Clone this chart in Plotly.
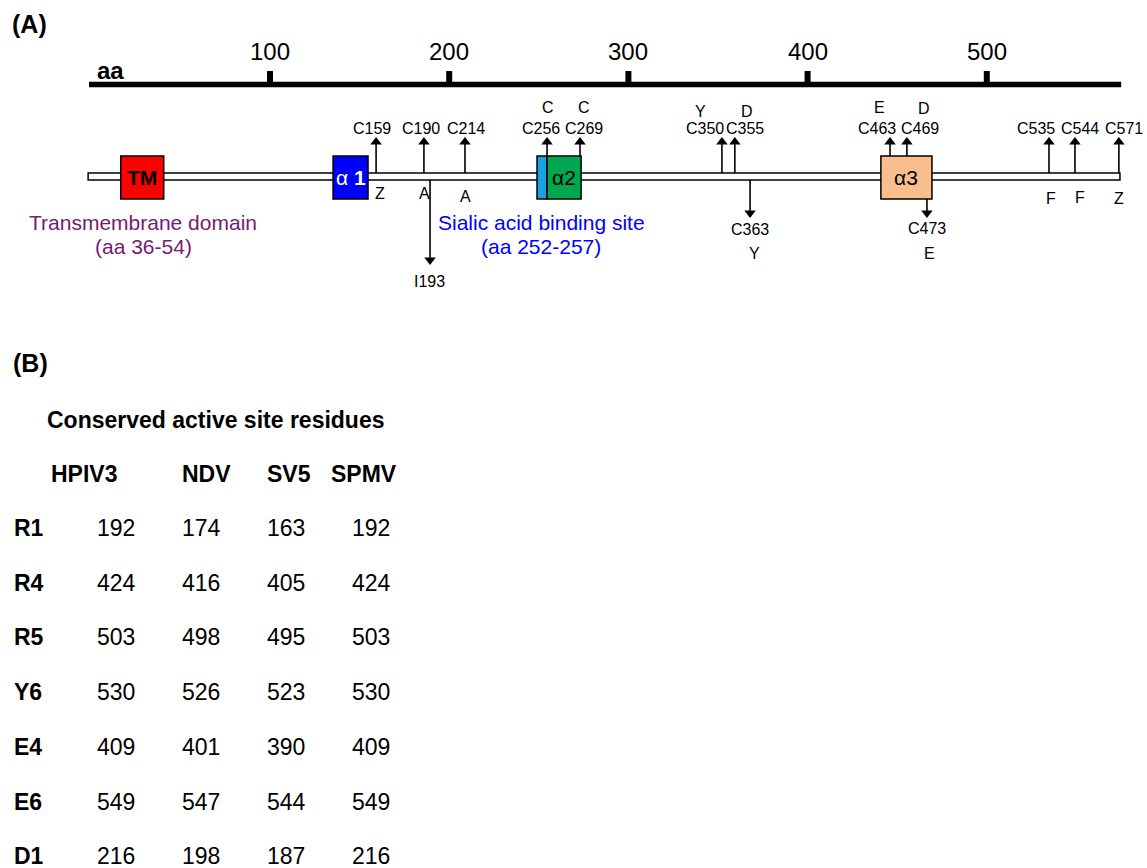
import plotly.graph_objects as go

# ------------------------------------------------------------------ data
ruler_ticks = [100, 200, 300, 400, 500]
ruler_span = [-1.0, 575.0]          # aa extent of the scale bar
chain_span = [-1.5, 574.3]          # aa extent of the HN chain as drawn

domain_names = ["TM", "α1", "SA", "α2", "α3"]
domain_start = [16.7, 135.2, 249.0, 254.6, 440.9]
domain_end = [40.7, 154.7, 254.6, 273.6, 469.4]
domain_labels = ["<b>TM</b>", "α <b>1</b>", "", "α2", "α3"]

up_sites = ["C159", "C190", "C214", "C256", "C269", "C350", "C355",
            "C463", "C469", "C535", "C544", "C571"]
up_pos = [159.2, 185.9, 208.8, 254.6, 273.0, 352.2, 359.4,
          446.0, 455.4, 534.7, 549.2, 573.7]
up_on_box = [False, False, False, True, True, False, False,
             True, True, False, False, False]
up_top_letter = ["", "", "", "C", "C", "Y", "D", "E", "D", "", "", ""]
up_bottom_letter = ["Z", "A", "A", "", "", "", "", "", "", "F", "F", "Z"]

down_sites = ["I193", "C363", "C473"]
down_pos = [189.3, 367.9, 466.6]
down_on_box = [False, False, True]
down_letter = ["", "Y", "E"]

tm_note = ["Transmembrane domain", "(aa 36-54)"]
sa_note = ["Sialic acid binding site", "(aa 252-257)"]

table_title = "Conserved active site residues"
viruses = ["HPIV3", "NDV", "SV5", "SPMV"]
residues = ["R1", "R4", "R5", "Y6", "E4", "E6", "D1"]
hpiv3 = [192, 424, 503, 530, 409, 549, 216]
ndv = [174, 416, 498, 526, 401, 547, 198]
sv5 = [163, 405, 495, 523, 390, 544, 187]
spmv = [192, 424, 503, 530, 409, 549, 216]

# ------------------------------------------------------------------ layout helpers
W, H = 1147, 868
PX0, PXA = 90.8, 1.792           # pixel of aa 0, pixels per aa
FONT = "Liberation Sans, Arial, Helvetica, sans-serif"
domain_colors = ["#FF0000", "#0000FF", "#1BA1E2", "#00A650", "#F9BE8C"]
domain_text_col = ["black", "white", "black", "black", "black"]


def off(px):
    return px / PXA


def xp(px):
    return px / W


def yp(py):
    return 1 - py / H


# per-site label offsets (pixels) -- styling only
up_label_dx = [-4, -3, 1, -6, 3.5, -17, 10, -13, 13.5, -13, 5, 5]
up_top_dx = [0, 0, 0, 1, 4, -21, 12, -11, 17, 0, 0, 0]
up_top_y = [0, 0, 0, 107, 107, 111, 111, 107, 108, 0, 0, 0]
up_bot_dx = [4, 1, 1, 0, 0, 0, 0, 0, 0, 2, 5, 0]
up_bot_y = [193, 193, 196, 0, 0, 0, 0, 0, 0, 198, 197, 198]
down_label_dx = [-1, 0, 0]
down_label_y = [281, 229, 228]
down_letter_dx = [0, 4, 3]
down_tip = [265, 218, 218]

BAR_Y0, BAR_Y1 = 173, 180
BOX_Y0, BOX_Y1 = 156, 199
UP_TIP = 137

fig = go.Figure()
shapes = []
ann = []

# scale bar
shapes.append(dict(type="rect", xref="x", yref="y", x0=ruler_span[0], x1=ruler_span[1],
                   y0=81.8, y1=87.3, fillcolor="black", line=dict(width=0)))
for t in ruler_ticks:
    shapes.append(dict(type="rect", xref="x", yref="y", x0=t - off(3), x1=t + off(3),
                       y0=71, y1=84, fillcolor="black", line=dict(width=0)))
    ann.append(dict(x=t, y=51.5, xref="x", yref="y", text=str(t), showarrow=False,
                    font=dict(size=24, color="black", family=FONT),
                    xanchor="center", yanchor="middle"))
ann.append(dict(x=off(95 - PX0), y=70.5, xref="x", yref="y", text="<b>aa</b>",
                showarrow=False, font=dict(size=24, color="black", family=FONT),
                xanchor="left", yanchor="middle"))

# chain
shapes.append(dict(type="rect", xref="x", yref="y", x0=chain_span[0], x1=chain_span[1],
                   y0=BAR_Y0, y1=BAR_Y1, fillcolor="white",
                   line=dict(color="black", width=1.5)))

# domains
for name, s, e, c, lab, tc in zip(domain_names, domain_start, domain_end,
                                  domain_colors, domain_labels, domain_text_col):
    shapes.append(dict(type="rect", xref="x", yref="y", x0=s, x1=e, y0=BOX_Y0, y1=BOX_Y1,
                       fillcolor=c, line=dict(color="black", width=1.5)))
    if lab:
        ann.append(dict(x=(s + e) / 2, y=177.5, xref="x", yref="y", text=lab,
                        showarrow=False, font=dict(size=21, color=tc, family=FONT),
                        xanchor="center", yanchor="middle"))

# arrows up
lx, ly = [], []
for p, onb in zip(up_pos, up_on_box):
    base = BOX_Y0 if onb else BAR_Y0
    lx += [p, p, None]
    ly += [base, UP_TIP + 5, None]
fig.add_trace(go.Scatter(x=lx, y=ly, mode="lines", line=dict(color="black", width=1.6),
                         hoverinfo="skip", showlegend=False))
fig.add_trace(go.Scatter(x=up_pos, y=[UP_TIP + 5] * len(up_pos), mode="markers",
                         marker=dict(symbol="triangle-up", size=10, color="black",
                                     line=dict(width=0)),
                         hoverinfo="skip", showlegend=False))
# arrows down
lx, ly, mx, my = [], [], [], []
for p, onb, tip in zip(down_pos, down_on_box, down_tip):
    base = BOX_Y1 if onb else BAR_Y1
    lx += [p, p, None]
    ly += [base, tip - 5, None]
    mx.append(p)
    my.append(tip - 5)
fig.add_trace(go.Scatter(x=lx, y=ly, mode="lines", line=dict(color="black", width=1.6),
                         hoverinfo="skip", showlegend=False))
fig.add_trace(go.Scatter(x=mx, y=my, mode="markers",
                         marker=dict(symbol="triangle-down", size=10, color="black",
                                     line=dict(width=0)),
                         hoverinfo="skip", showlegend=False))

small = dict(size=16, color="black", family=FONT)
for i, (name, p) in enumerate(zip(up_sites, up_pos)):
    ann.append(dict(x=p + off(up_label_dx[i]), y=128, xref="x", yref="y", text=name,
                    showarrow=False, font=small, xanchor="center", yanchor="middle"))
    if up_top_letter[i]:
        ann.append(dict(x=p + off(up_top_dx[i]), y=up_top_y[i], xref="x", yref="y",
                        text=up_top_letter[i], showarrow=False, font=small,
                        xanchor="center", yanchor="middle"))
    if up_bottom_letter[i]:
        ann.append(dict(x=p + off(up_bot_dx[i]), y=up_bot_y[i], xref="x", yref="y",
                        text=up_bottom_letter[i], showarrow=False, font=small,
                        xanchor="center", yanchor="middle"))
for i, (name, p) in enumerate(zip(down_sites, down_pos)):
    ann.append(dict(x=p + off(down_label_dx[i]), y=down_label_y[i], xref="x", yref="y",
                    text=name, showarrow=False, font=small,
                    xanchor="center", yanchor="middle"))
    if down_letter[i]:
        ann.append(dict(x=p + off(down_letter_dx[i]), y=253, xref="x", yref="y",
                        text=down_letter[i], showarrow=False, font=small,
                        xanchor="center", yanchor="middle"))

# domain notes
for txt, yy in zip(tm_note, [222, 246]):
    ann.append(dict(x=off(143 - PX0), y=yy, xref="x", yref="y", text=txt, showarrow=False,
                    font=dict(size=21, color="#741B72", family=FONT),
                    xanchor="center", yanchor="middle"))
for txt, yy in zip(sa_note, [222, 246]):
    ann.append(dict(x=off(541 - PX0), y=yy, xref="x", yref="y", text=txt, showarrow=False,
                    font=dict(size=21, color="#0000FF", family=FONT),
                    xanchor="center", yanchor="middle"))

# panel labels
ann.append(dict(x=xp(10), y=yp(24), xref="paper", yref="paper", text="<b>(A)</b>",
                showarrow=False, font=dict(size=25, color="black", family=FONT),
                xanchor="left", yanchor="middle"))
ann.append(dict(x=xp(11), y=yp(363), xref="paper", yref="paper", text="<b>(B)</b>",
                showarrow=False, font=dict(size=25, color="black", family=FONT),
                xanchor="left", yanchor="middle"))

# table
tfont = dict(size=23, color="black", family=FONT)
ann.append(dict(x=xp(45), y=yp(420), xref="paper", yref="paper",
                text="<b>" + table_title + "</b>", showarrow=False, font=tfont,
                xanchor="left", yanchor="middle"))
head_x = [84, 206, 289, 364]
for v, hx in zip(viruses, head_x):
    ann.append(dict(x=xp(hx), y=yp(474), xref="paper", yref="paper", text="<b>" + v + "</b>",
                    showarrow=False, font=tfont, xanchor="center", yanchor="middle"))
col_x = [116, 201, 286, 371]
for r, (res, a, b, c, d) in enumerate(zip(residues, hpiv3, ndv, sv5, spmv)):
    ry = 528 + 54.7 * r
    ann.append(dict(x=xp(12), y=yp(ry), xref="paper", yref="paper", text="<b>" + res + "</b>",
                    showarrow=False, font=tfont, xanchor="left", yanchor="middle"))
    for val, cx in zip([a, b, c, d], col_x):
        ann.append(dict(x=xp(cx), y=yp(ry), xref="paper", yref="paper", text=str(val),
                        showarrow=False, font=tfont, xanchor="center", yanchor="middle"))

fig.update_layout(
    width=W, height=H, margin=dict(l=0, r=0, t=0, b=0),
    paper_bgcolor="white", plot_bgcolor="white",
    xaxis=dict(range=[-PX0 / PXA, (W - PX0) / PXA], visible=False, fixedrange=True),
    yaxis=dict(range=[H, 0], visible=False, fixedrange=True),
    shapes=shapes, annotations=ann, showlegend=False,
)

fig.write_html("out.html", config={"displayModeBar": False},
               post_script="document.body.style.margin='0';")
